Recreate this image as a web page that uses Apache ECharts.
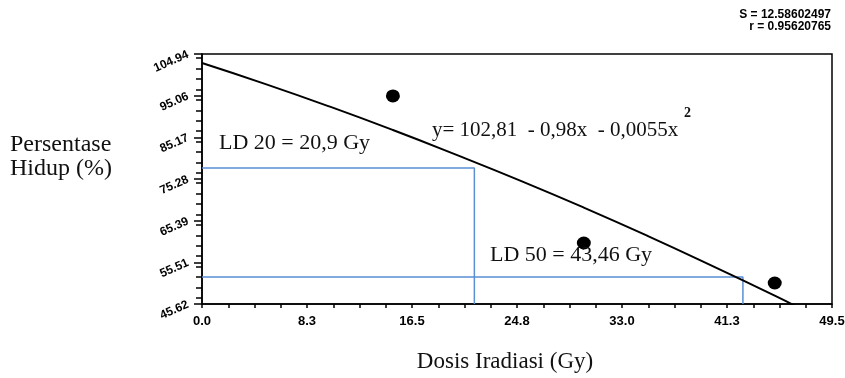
<!DOCTYPE html>
<html>
<head>
<meta charset="utf-8">
<script src="https://cdn.jsdelivr.net/npm/echarts@6/dist/echarts.min.js"></script>
<style>html,body{margin:0;padding:0;background:#fff}#c{width:845px;height:378px}</style>
</head>
<body>
<div id="c"></div>
<script>
// ---- data ----
const xTickLabels = ['0.0', '8.3', '16.5', '24.8', '33.0', '41.3', '49.5'];
const yTickValues = [45.62, 55.51, 65.39, 75.28, 85.17, 95.06, 104.94];
const yMinorTicks = [47.09, 49.57, 52.04, 54.51, 56.98, 59.45, 61.92, 64.39, 66.87, 69.34, 71.81, 74.28,
                     76.75, 79.22, 81.69, 84.17, 86.64, 89.11, 91.58, 94.05, 96.52, 99.00, 101.47, 103.94];
const curveX = [0, 5, 10, 15, 20, 25, 30, 35, 40, 45, 46.6];
const curveY = [102.8, 97.8, 92.5, 86.9, 81.0, 74.9, 68.5, 61.8, 54.8, 47.6, 45.2];
const obsX = [15, 30, 45];
const obsY = [95.0, 60.1, 50.6];
const ld20Line = [[0, 77.9], [21.4, 77.9], [21.4, 45.62]];
const ld50Line = [[0, 52.0], [42.5, 52.0], [42.5, 45.62]];

const serif = "'Liberation Serif','Times New Roman',serif";
const sans = "'Liberation Sans',Arial,sans-serif";

const chart = echarts.init(document.getElementById('c'), null, {renderer: 'canvas'});
chart.setOption({
  animation: false,
  backgroundColor: '#fff',
  grid: {left: 202, right: 13, top: 54, bottom: 74, show: true, borderColor: '#000', borderWidth: 1.5,
         containLabel: false, outerBoundsMode: 'none'},
  xAxis: {
    type: 'value', min: 0, max: 49.5, interval: 8.25,
    axisLine: {show: true, lineStyle: {color: '#000', width: 1.5}},
    axisTick: {show: true, length: 4, inside: false, lineStyle: {color: '#000', width: 1.5}},
    minorTick: {show: true, splitNumber: 4, length: 4, lineStyle: {color: '#000', width: 1.5}},
    splitLine: {show: false},
    axisLabel: {
      margin: 11, color: '#000', fontFamily: sans, fontWeight: 'bold', fontSize: 13,
      formatter: v => xTickLabels[Math.round(v / 8.25)]
    }
  },
  yAxis: [{
    type: 'value', min: 45.62, max: 104.94,
    axisLine: {show: true, lineStyle: {color: '#000', width: 1.5}},
    axisTick: {show: true, length: 8, customValues: yTickValues, lineStyle: {color: '#000', width: 1.5}},
    splitLine: {show: false},
    axisLabel: {
      customValues: yTickValues, rotate: 24, margin: 14, color: '#000',
      fontFamily: sans, fontWeight: 'bold', fontSize: 12,
      formatter: v => v.toFixed(2)
    }
  }, {
    type: 'value', min: 45.62, max: 104.94, position: 'left',
    axisLine: {show: false},
    axisTick: {show: true, length: 6, customValues: yMinorTicks, lineStyle: {color: '#000', width: 1.5}},
    axisLabel: {show: false},
    splitLine: {show: false}
  }],
  series: [
    {
      type: 'line', data: ld20Line, showSymbol: false, symbol: 'none',
      lineStyle: {color: '#5b8fd4', width: 1.5}, z: 2
    },
    {
      type: 'line', data: ld50Line, showSymbol: false, symbol: 'none',
      lineStyle: {color: '#5b8fd4', width: 1.5}, z: 2
    },
    {
      type: 'line', data: curveX.map((x, i) => [x, curveY[i]]), smooth: true,
      showSymbol: false, symbol: 'none', clip: true,
      lineStyle: {color: '#000', width: 2}, z: 3
    },
    {
      type: 'scatter', data: obsX.map((x, i) => [x, obsY[i]]), symbolSize: [14, 13],
      itemStyle: {color: '#000', opacity: 1}, z: 4
    }
  ],
  graphic: [
    {type: 'text', left: 10, top: 133, style: {text: 'Persentase\nHidup (%)', font: '24px ' + serif, fill: '#111', lineHeight: 24}},
    {type: 'text', x: 505, y: 362, style: {text: 'Dosis Iradiasi (Gy)', font: '23px ' + serif, fill: '#111', align: 'center', verticalAlign: 'middle'}},
    {type: 'text', x: 831, y: 15, style: {text: 'S = 12.58602497', font: 'bold 12px ' + sans, fill: '#000', align: 'right', verticalAlign: 'middle'}},
    {type: 'text', x: 831, y: 27, style: {text: 'r = 0.95620765', font: 'bold 12px ' + sans, fill: '#000', align: 'right', verticalAlign: 'middle'}},
    {type: 'text', x: 219, y: 143, z: 10, style: {text: 'LD 20 = 20,9 Gy', font: '22px ' + serif, fill: '#111', verticalAlign: 'middle'}},
    {type: 'text', x: 490, y: 255, z: 10, style: {text: 'LD 50 = 43,46 Gy', font: '22px ' + serif, fill: '#111', verticalAlign: 'middle'}},
    {type: 'text', x: 432, y: 130, z: 10, style: {text: 'y= 102,81  - 0,98x  - 0,0055x', font: '21px ' + serif, fill: '#111', verticalAlign: 'middle'}},
    {type: 'text', x: 684, y: 113, z: 10, style: {text: '2', font: 'bold 14px ' + serif, fill: '#111', verticalAlign: 'middle'}}
  ]
});
</script>
</body>
</html>
